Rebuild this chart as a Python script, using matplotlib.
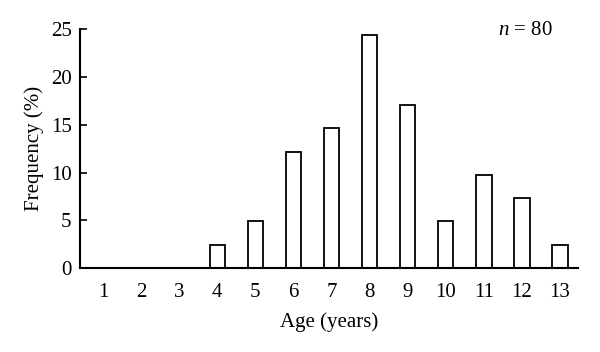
import matplotlib
matplotlib.use("Agg")
import matplotlib.pyplot as plt

ages = [1, 2, 3, 4, 5, 6, 7, 8, 9, 10, 11, 12, 13]
freq = [0, 0, 0, 2.44, 4.88, 12.2, 14.63, 24.39, 17.07, 4.88, 9.76, 7.32, 2.44]
y_ticks = [0, 5, 10, 15, 20, 25]

plt.rcParams["font.family"] = ["Liberation Serif", "DejaVu Serif"]
plt.rcParams["mathtext.fontset"] = "custom"
plt.rcParams["mathtext.it"] = "Liberation Serif:italic"
plt.rcParams["mathtext.rm"] = "Liberation Serif"

fig = plt.figure(figsize=(6, 3.52), dpi=100)
ax = fig.add_axes([80 / 600, 84 / 352, 498 / 600, 238.5 / 352])

ax.bar(ages, freq, width=0.4, color="white", edgecolor="black", linewidth=1.3)

ax.set_xlim(0.4, 13.47)
ax.set_ylim(0, 25)
ax.set_xticks(ages)
ax.set_yticks(y_ticks)
ax.tick_params(axis="x", length=0, labelsize=15, pad=11)
ax.tick_params(axis="y", direction="in", length=5, width=1.2, labelsize=15, pad=6)
for s in ["top", "right"]:
    ax.spines[s].set_visible(False)
for s in ["left", "bottom"]:
    ax.spines[s].set_linewidth(1.5)
    ax.spines[s].set_zorder(3)

ax.set_xlabel("Age (years)", fontsize=15, labelpad=7)
ax.set_ylabel("Frequency (%)", fontsize=15, labelpad=5)
ax.text(0.95, 0.995, "$n$ = 80", transform=ax.transAxes, ha="right", va="center", fontsize=15)

fig.savefig("out.png", dpi=100)
